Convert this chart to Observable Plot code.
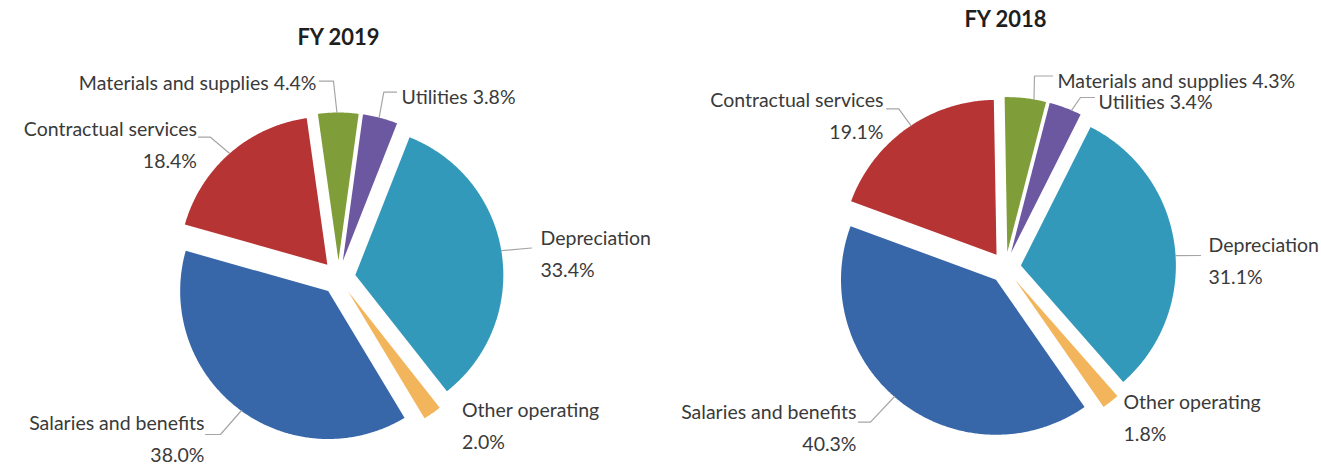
<!DOCTYPE html>
<html>
<head>
<meta charset="utf-8">
<script src="https://cdn.jsdelivr.net/npm/d3@7"></script>
<script src="https://cdn.jsdelivr.net/npm/@observablehq/plot@0.6"></script>
<style>
  html, body { margin: 0; padding: 0; background: #ffffff; }
  #chart svg { display: block; }
</style>
</head>
<body>
<div id="chart"></div>
<script>
// ---- data ----
const categories = ["Materials and supplies", "Utilities", "Depreciation", "Other operating", "Salaries and benefits", "Contractual services"];
const fy2019 = [4.4, 3.8, 33.4, 2.0, 38.0, 18.4];
const fy2018 = [4.3, 3.4, 31.1, 1.8, 40.3, 19.1];
const years = ["FY 2019", "FY 2018"];
const sliceColors = ["#7f9d38", "#6c57a1", "#3399bb", "#f2b55c", "#3767a9", "#b73434"];

// ---- layout (pixel-space frame of the picture) ----
const W = 1321, H = 466;
const pies = [
  {year: years[0], values: fy2019, cx: 338, cy: 277, r: 148, explode: 17, start: -8, tx: 338, ty: 37,
   labels: [
     {anchor: "end",   x: 316,   y: 79,    two: false, leader: {a: -0.6, elbow: [333, 80.7], from: [319, 80.7]}},
     {anchor: "start", x: 401,   y: 93,    two: false, leader: {a: 14.2, elbow: [383.3, 91.7], from: [396, 91.7]}},
     {anchor: "start", x: 540,   y: 250,   two: true,  leader: {a: 80.5, elbow: null, from: [531, 247.5]}},
     {anchor: "start", x: 461.5, y: 422,   two: true,  leader: null},
     {anchor: "end",   x: 204,   y: 435,   two: true,  leader: {a: 216, elbow: [220, 434], from: [205, 434]}},
     {anchor: "end",   x: 196.5, y: 140.8, two: true,  leader: {a: 318.7, elbow: [210, 136.7], from: [198, 136.7]}}
   ]},
  {year: years[1], values: fy2018, cx: 1005, cy: 267, r: 155, explode: 15.5, start: -1, tx: 1005, ty: 19,
   labels: [
     {anchor: "start", x: 1057,  y: 77,    two: false, leader: {a: 9.9, elbow: [1034, 75.5], from: [1052, 75.5]}},
     {anchor: "start", x: 1098,  y: 98,    two: false, leader: {a: 23, elbow: [1080, 97], from: [1094, 97]}},
     {anchor: "start", x: 1208,  y: 257,   two: true,  leader: {a: 86.3, elbow: null, from: [1200, 255]}},
     {anchor: "start", x: 1123,  y: 414,   two: true,  leader: null},
     {anchor: "end",   x: 856,   y: 424.5, two: true,  leader: {a: 221, elbow: [870, 421.7], from: [858, 421.7]}},
     {anchor: "end",   x: 883,   y: 112.5, two: true,  leader: {a: 326.5, elbow: [898.3, 108.3], from: [886, 108.3]}}
   ]}
];

const rad = (deg) => deg * Math.PI / 180;
const slicePts = [], leaderPts = [], labelRows = [], titleRows = [];

pies.forEach((p, pi) => {
  const arcs = d3.pie().sort(null)
    .startAngle(rad(p.start)).endAngle(rad(p.start + 360))(p.values);
  arcs.forEach((arc, i) => {
    const mid = (arc.startAngle + arc.endAngle) / 2;
    const ox = p.cx + p.explode * Math.sin(mid);
    const oy = p.cy - p.explode * Math.cos(mid);
    const key = p.year + "|" + categories[i];
    slicePts.push({key, cat: categories[i], x: ox, y: oy});
    const n = Math.max(8, Math.ceil((arc.endAngle - arc.startAngle) / rad(0.5)));
    for (let k = 0; k <= n; k++) {
      const t = arc.startAngle + (arc.endAngle - arc.startAngle) * k / n;
      slicePts.push({key, cat: categories[i], x: ox + p.r * Math.sin(t), y: oy - p.r * Math.cos(t)});
    }
    slicePts.push({key, cat: categories[i], x: ox, y: oy});

    const L = p.labels[i];
    const v = p.values[i].toFixed(1) + "%";
    labelRows.push({anchor: L.anchor, x: L.x, y: L.y,
      text: L.two ? categories[i] + "\n" + v : categories[i] + " " + v});
    if (L.leader) {
      const lk = key + "|leader";
      const ax = ox + p.r * Math.sin(rad(L.leader.a));
      const ay = oy - p.r * Math.cos(rad(L.leader.a));
      leaderPts.push({key: lk, x: L.leader.from[0], y: L.leader.from[1]});
      if (L.leader.elbow) leaderPts.push({key: lk, x: L.leader.elbow[0], y: L.leader.elbow[1]});
      leaderPts.push({key: lk, x: ax, y: ay});
    }
  });
  titleRows.push({x: p.tx, y: p.ty, text: p.year});
});

const font = "Lato, 'Open Sans', sans-serif";
const labelSize = 19.5;
const chart = Plot.plot({
  width: W, height: H,
  margin: 0,
  style: {background: "#ffffff", fontFamily: font},
  x: {domain: [0, W], range: [0, W], axis: null},
  y: {domain: [0, H], range: [0, H], axis: null},
  color: {domain: categories, range: sliceColors},
  marks: [
    Plot.line(slicePts, {x: "x", y: "y", z: "key", fill: "cat", stroke: "none", curve: "linear"}),
    Plot.line(leaderPts, {x: "x", y: "y", z: "key", stroke: "#a6a6a6", strokeWidth: 1.2, curve: "linear"}),
    Plot.text(labelRows.filter(d => d.anchor === "start"), {x: "x", y: "y", text: "text", textAnchor: "start",
      fontSize: labelSize, lineHeight: 1.64, fill: "#3a3a3a", fontFamily: font}),
    Plot.text(labelRows.filter(d => d.anchor === "end"), {x: "x", y: "y", text: "text", textAnchor: "end",
      fontSize: labelSize, lineHeight: 1.64, fill: "#3a3a3a", fontFamily: font}),
    Plot.text(titleRows, {x: "x", y: "y", text: "text", fontSize: 22, fontWeight: "bold", fill: "#1f1f1f", fontFamily: font})
  ]
});
document.getElementById("chart").appendChild(chart);
</script>
</body>
</html>
